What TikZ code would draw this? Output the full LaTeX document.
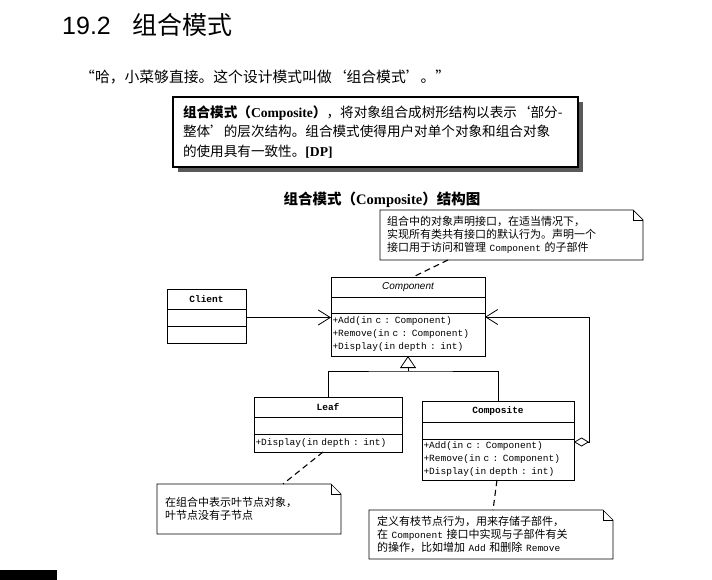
\documentclass[tikz,border=0pt]{standalone}
\usepackage{fontspec}
\setmainfont{Noto Sans CJK SC}
\setmonofont{Liberation Mono}
\newfontfamily\latserif{Liberation Serif}
\newfontfamily\latsans{Liberation Sans}
\usepackage{tikz}
\usetikzlibrary{arrows.meta,positioning,shadows}

\newcommand{\code}[1]{{\ttfamily\fontsize{9.5}{12.7}\selectfont #1}}
\newcommand{\foldnote}[1]{%
  \draw[notebox] (#1.north west) -- ([xshift=-10pt]#1.north east) -- ([yshift=-10pt]#1.north east)
    -- (#1.south east) -- (#1.south west) -- cycle;
  \draw[notebox] ([xshift=-10pt]#1.north east) |- ([yshift=-10pt]#1.north east);}

\begin{document}
\begin{tikzpicture}[x=1pt, y=-1pt,
  cname/.style={draw, line width=0.8pt, outer sep=0pt, inner sep=1.5pt, anchor=north west,
    font=\ttfamily\bfseries\fontsize{9.5}{11}\selectfont},
  cpart/.style={draw, line width=0.8pt, outer sep=0pt, inner sep=1.5pt, anchor=north, align=left,
    font=\ttfamily\fontsize{9.5}{13}\selectfont},
  note/.style={inner sep=0pt, outer sep=0pt, anchor=north west, align=left,
    font=\fontsize{11}{12.7}\selectfont},
  notebox/.style={line width=0.7pt},
  noteline/.style={line width=1.1pt, dash pattern=on 6pt off 4pt},
  defbox/.style={draw, line width=1.2pt, fill=white, outer sep=0pt,
    drop shadow={shadow xshift=5pt, shadow yshift=-5pt, fill=black!65, opacity=1}},
  assoc/.style={-{Straight Barb[length=12pt,width=15pt]}, line width=0.8pt},
  inherit/.style={-{Triangle[open,length=12pt,width=16pt]}, line width=0.8pt},
  aggr/.style={{Diamond[open,length=15pt,width=9pt]}-{Straight Barb[length=12pt,width=15pt]}, line width=0.8pt}]
  \fill[white] (0,0) rectangle (712,580);
  \useasboundingbox (0,0) rectangle (712,580);
  % --- page text ---
  \node[anchor=west, inner sep=0pt, font=\fontsize{25}{30}\selectfont] (title) at (62,25)
    {{\latsans 19.2}\hspace{22pt}组合模式};
  \node[anchor=west, inner sep=0pt, font=\fontsize{14.8}{17}\selectfont] (quote) at (80,77)
    {“哈，小菜够直接。这个设计模式叫做‘组合模式’。”};
  \node[defbox, anchor=north west, text width=385pt, inner xsep=10pt, inner ysep=0pt,
    minimum height=70pt, align=left, font=\fontsize{13.6}{19.5}\selectfont] (defn) at (173,97)
    {{\bfseries 组合模式（{\latserif Composite}）}，将对象组合成树形结构以表示‘部分\mbox{-}\\
     整体’的层次结构。组合模式使得用户对单个对象和组合对象\\
     的使用具有一致性。{\latserif\bfseries [DP]}};
  \node[font=\bfseries\fontsize{14.5}{17}\selectfont] (caption) at (382,200)
    {组合模式（{\latserif Composite}）结构图};
  % --- classes ---
  \node[cname, minimum width=154pt, minimum height=20pt, font=\latsans\itshape\fontsize{10}{11}\selectfont]
    (componentname) at (331,277) {Component};
  \node[cpart, minimum width=154pt, minimum height=16pt] (componentattr) at (componentname.south) {};
  \node[cpart, text width=151pt, minimum height=43pt] (componentops) at (componentattr.south)
    {+Add(in c : Component)\\+Remove(in c : Component)\\+Display(in depth : int)};
  \node[cname, minimum width=79pt, minimum height=20pt] (clientname) at (167,289) {Client};
  \node[cpart, minimum width=79pt, minimum height=17pt] (clientattr) at (clientname.south) {};
  \node[cpart, minimum width=79pt, minimum height=17pt] (clientops) at (clientattr.south) {};
  \node[cname, minimum width=148pt, minimum height=20pt] (leafname) at (254,397) {Leaf};
  \node[cpart, minimum width=148pt, minimum height=17pt] (leafattr) at (leafname.south) {};
  \node[cpart, text width=145pt, minimum height=18pt] (leafops) at (leafattr.south)
    {+Display(in depth : int)};
  \node[cname, minimum width=152pt, minimum height=21pt] (compositename) at (422,401) {Composite};
  \node[cpart, minimum width=152pt, minimum height=17pt] (compositeattr) at (compositename.south) {};
  \node[cpart, text width=149pt, minimum height=41pt] (compositeops) at (compositeattr.south)
    {+Add(in c : Component)\\+Remove(in c : Component)\\+Display(in depth : int)};
  % --- notes ---
  \node[note, inner xsep=7pt, text width=249pt, minimum height=50pt] (topnote) at (380,210)
    {组合中的对象声明接口，在适当情况下，\\实现所有类共有接口的默认行为。声明一个\\接口用于访问和管理 \code{Component} 的子部件};
  \foldnote{topnote}
  \node[note, inner xsep=8pt, text width=168pt, minimum height=50pt] (leafnote) at (157,484)
    {在组合中表示叶节点对象，\\叶节点没有子节点};
  \foldnote{leafnote}
  \node[note, inner xsep=8pt, text width=228pt, minimum height=49pt] (compositenote) at (369,510)
    {定义有枝节点行为，用来存储子部件，\\在 \code{Component} 接口中实现与子部件有关\\的操作，比如增加 \code{Add} 和删除 \code{Remove}};
  \foldnote{compositenote}
  % --- relations ---
  \draw[assoc] (clientattr.east) -- (clientattr.east -| componentops.west);
  \coordinate (split) at (408,371);
  \draw[line width=0.8pt] (leafname.north) |- (split) -| (compositename.north);
  \draw[inherit] (split) -- (componentops.south);
  \draw[aggr] ([yshift=-3pt]compositeops.north east) -- ([xshift=15pt,yshift=-3pt]compositeops.north east)
    |- ([yshift=-4pt]componentops.north east);
  \draw[noteline] ([xshift=68pt]topnote.south west) -- ([xshift=5pt]componentname.north);
  \draw[noteline] ([xshift=-5pt]leafops.south) -- ([xshift=126pt]leafnote.north west);
  \draw[noteline] ([xshift=-1pt]compositeops.south) -- ([xshift=124pt]compositenote.north west);
  % --- page edge ---
  \fill (0,570) rectangle (57,580);
\end{tikzpicture}
\end{document}
